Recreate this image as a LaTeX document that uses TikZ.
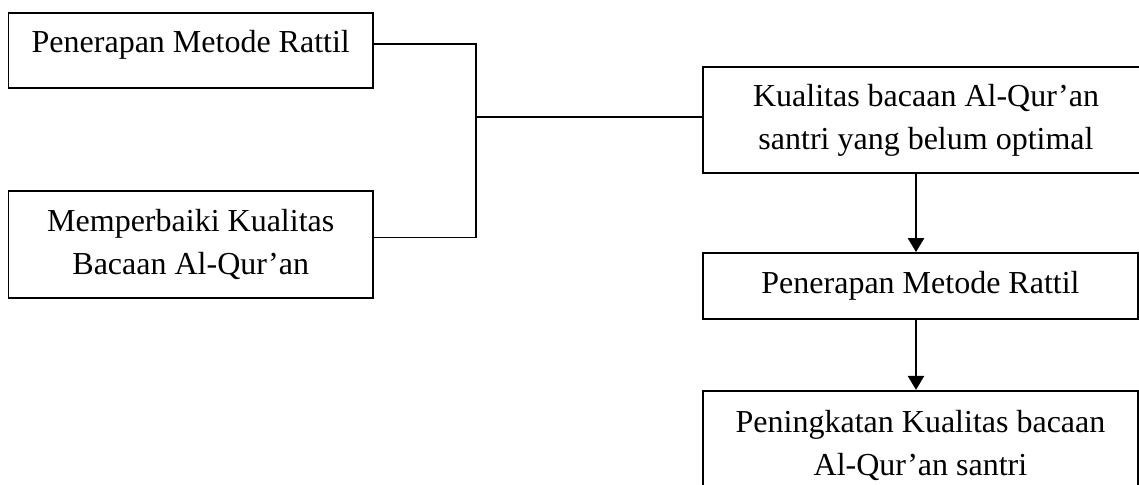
\documentclass[tikz,border=0pt]{standalone}
\usepackage{fontspec}
\setmainfont{Liberation Serif}
\usetikzlibrary{arrows.meta,positioning,calc}

\tikzset{
  box/.style={draw,line width=0.9pt,align=center,inner sep=0pt,font=\fontsize{16}{21.5}\selectfont},
  link/.style={line width=0.8pt},
  flow/.style={-{Triangle[length=7pt,width=8pt]},line width=1.2pt}
}

\begin{document}
\begin{tikzpicture}[x=0.5pt,y=-0.5pt]
  \useasboundingbox (0,0) rectangle (1139,484);
  % left column
  \node[box,minimum width=182.25pt,minimum height=37.5pt,text depth=9.5pt] (rattil) at (190.75,50.5) {Penerapan Metode Rattil};
  \node[box,minimum width=182.25pt,minimum height=53.5pt] (perbaiki) at (190.75,244.5) {Memperbaiki Kualitas\\Bacaan Al-Qur’an};
  % right column
  \node[box,minimum width=223pt,minimum height=53pt] (masalah) at (926,120) {Kualitas bacaan Al-Qur’an\\santri yang belum optimal};
  \node[box,minimum width=217.5pt,minimum height=33pt] (metode) at (920.5,286) {Penerapan Metode Rattil};
  \node[box,minimum width=217.5pt,minimum height=54.5pt,below=35pt of metode] (hasil) {Peningkatan Kualitas bacaan\\Al-Qur’an santri};
  % connectors
  \coordinate (join) at (476,117);
  \draw[link] ([yshift=3.25pt]rattil.east) -| (join);
  \draw[link] ([yshift=3.5pt]perbaiki.east) -| (join);
  \draw[link] (join) -- (join -| masalah.west);
  \draw[flow] ([xshift=-2.25pt]masalah.south -| metode.north) -- ([xshift=-2.25pt]metode.north);
  \draw[flow] ([xshift=-2.25pt]metode.south) -- ([xshift=-2.25pt]hasil.north);
\end{tikzpicture}
\end{document}
